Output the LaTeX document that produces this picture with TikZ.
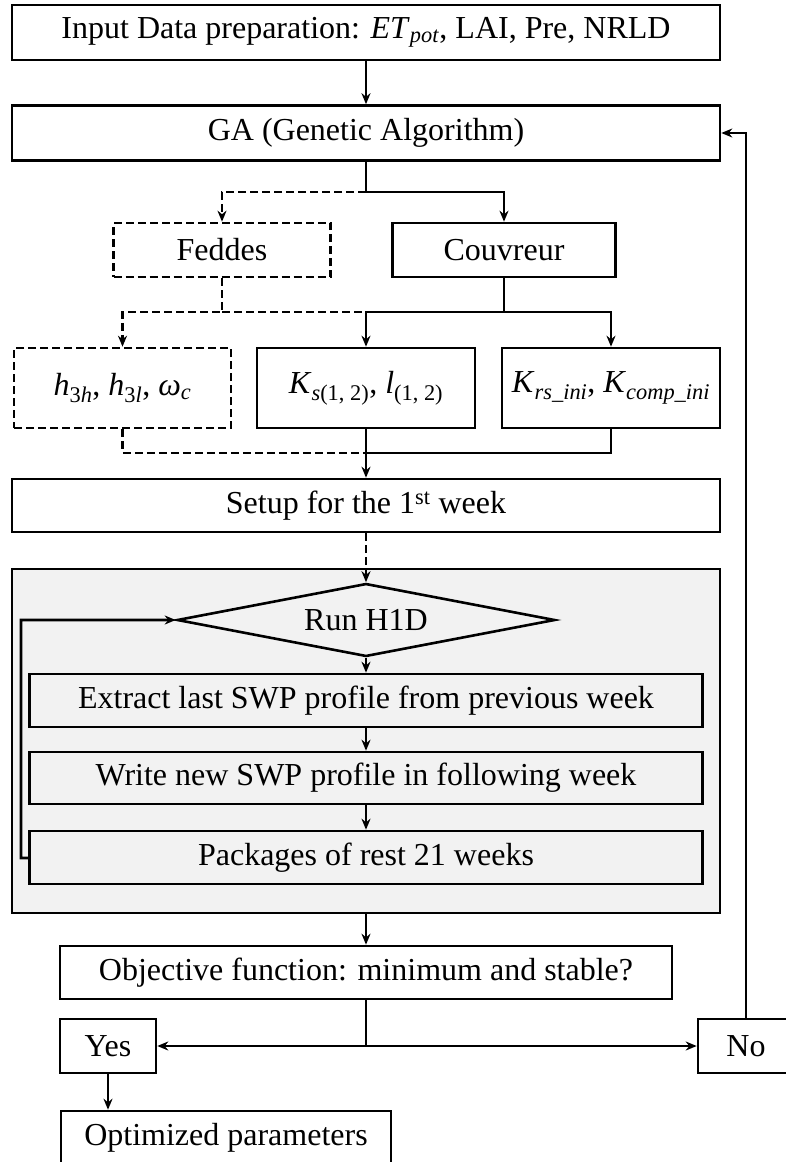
\documentclass[tikz,border=0pt]{standalone}
\usepackage{fontspec}
\setmainfont{Liberation Serif}
\usetikzlibrary{positioning,arrows.meta,shapes.geometric}
\definecolor{panelgray}{HTML}{F2F2F2}

\begin{document}
\begin{tikzpicture}[
  x=1pt, y=-1pt,
  >={Stealth[length=11pt,width=9pt]},
  font=\fontsize{32}{38}\selectfont,
  box/.style={draw, line width=2.6pt, inner sep=0pt, align=center},
  dbox/.style={box, dash pattern=on 8pt off 4pt},
  gbox/.style={box, fill=panelgray},
  panel/.style={draw, line width=2.6pt, fill=panelgray, inner sep=0pt},
  rel/.style={->, line width=2.6pt},
  drel/.style={->, line width=2.6pt, dash pattern=on 8pt off 4pt},
  link/.style={line width=2.6pt},
  dlink/.style={link, dash pattern=on 8pt off 4pt}
]
\useasboundingbox (0,0) rectangle (785,1162);

% Input and GA
\node[box, minimum width=708pt, minimum height=55pt] (inp) at (366,32.5)
  {Input Data preparation: \textit{ET}\textsubscript{\textit{pot}}, LAI, Pre, NRLD};
\node[box, minimum width=708pt, minimum height=55pt] (ga) at (366,133) {GA (Genetic Algorithm)};

% Models
\node[dbox, minimum width=217pt, minimum height=54pt] (fed) at (222,250) {Feddes};
\node[box, minimum width=223pt, minimum height=54pt] (cou) at (504,250) {Couvreur};

% Parameters
\node[dbox, minimum width=217pt, minimum height=80pt] (hpar) at (122.5,388)
  {\textit{h}\textsubscript{3\textit{h}}, \textit{h}\textsubscript{3\textit{l}}, \textit{ω}\textsubscript{\textit{c}}};
\node[box, minimum width=218pt, minimum height=80pt] (kspar) at (366,388)
  {\textit{K}\textsubscript{\textit{s}(1, 2)}, \textit{l}\textsubscript{(1, 2)}};
\node[box, minimum width=218pt, minimum height=80pt] (krs) at (611,388)
  {\textit{K}\textsubscript{\textit{rs\_ini}}, \textit{K}\textsubscript{\textit{comp\_ini}}};

\node[box, minimum width=708pt, minimum height=53pt] (setup) at (366,505.5) {Setup for the 1\textsuperscript{st} week};

% Weekly loop panel
\node[panel, minimum width=708pt, minimum height=344pt] (panel) at (366,741) {};
\node[diamond, draw, line width=2.6pt, fill=panelgray, aspect=5, inner sep=0pt,
      minimum width=378pt, minimum height=73pt] (run) at (366,620) {Run H1D};
\node[gbox, minimum width=673pt, minimum height=53pt] (ext) at (366,700.5) {Extract last SWP profile from previous week};
\node[gbox, minimum width=673pt, minimum height=52pt] (wri) at (366,778) {Write new SWP profile in following week};
\node[gbox, minimum width=673pt, minimum height=53pt] (pkg) at (366,857.5) {Packages of rest 21 weeks};

% Evaluation
\node[box, minimum width=612pt, minimum height=53pt] (obj) at (366,972.5) {Objective function: minimum and stable?};
\node[box, minimum width=96pt, minimum height=54pt] (yes) at (108,1046) {Yes};
\node[box, minimum width=96pt, minimum height=54pt] (no) at (746,1046) {No};
\node[box, minimum width=330pt, minimum height=54pt] (opt) at (226,1138) {Optimized parameters};

% Branch points
\coordinate (br1) at (366,192);
\coordinate (jf) at (222,312);
\coordinate (jc) at (504,312);
\coordinate (jm) at (366,453);
\coordinate (lp) at (21,858);
\coordinate (jo) at (366,1046);

\draw[rel] (inp) -- (ga);
\draw[rel] (ga) -- (br1) -| (cou);
\draw[drel] (br1) -| (fed);

\draw[drel] (fed) -- (jf) -| (hpar);
\draw[dlink] (jf) -- (jf -| kspar);
\draw[rel] (cou) -- (jc) -| (kspar);
\draw[rel] (jc) -| (krs);

\draw[dlink] (hpar) |- (jm);
\draw[link] (krs) |- (jm);
\draw[rel] (kspar) -- (setup);

\draw[drel] (setup) -- (run);
\draw[rel] (run) -- (ext);
\draw[rel] (ext) -- (wri);
\draw[rel] (wri) -- (pkg);
\draw[rel] (pkg) -- (lp) |- (run);

\draw[rel] (panel) -- (obj);
\draw[link] (obj) -- (jo);
\draw[rel] (jo) -- (yes);
\draw[rel] (jo) -- (no);
\draw[rel] (no) |- (ga);
\draw[rel] (yes) -- (yes.south |- opt.north);

\end{tikzpicture}
\end{document}
